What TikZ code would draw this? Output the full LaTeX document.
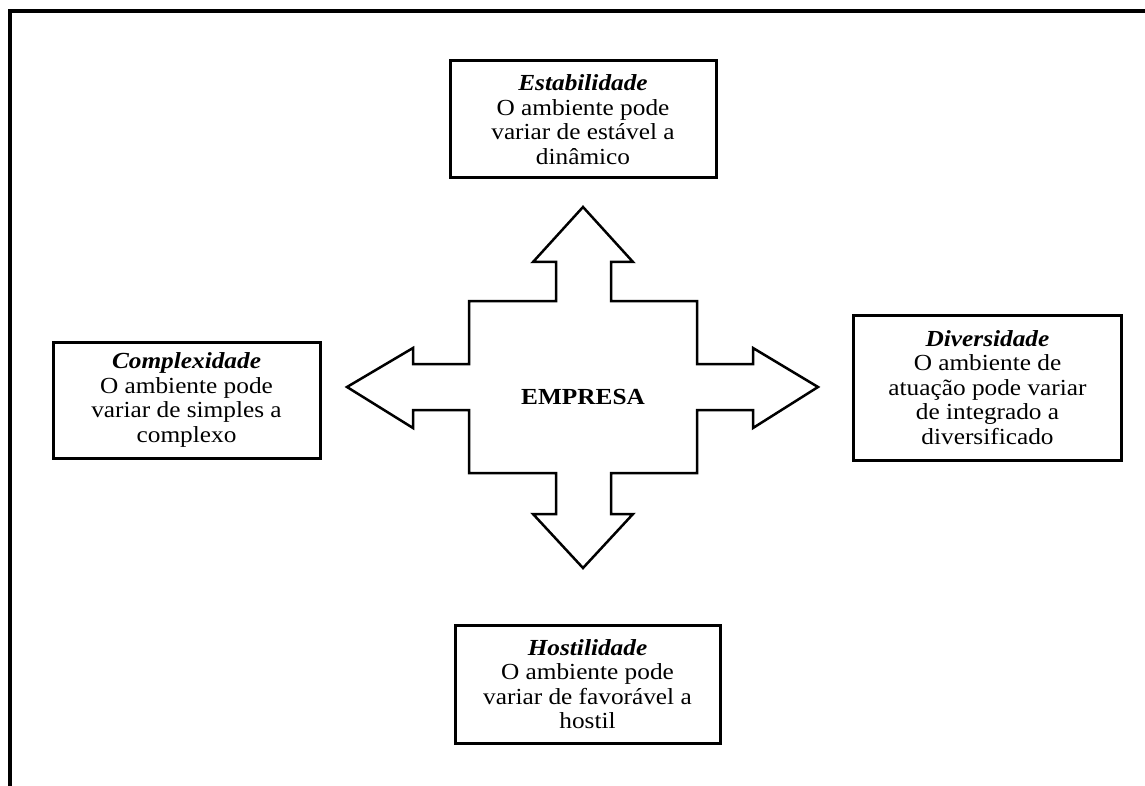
\documentclass[tikz,border=0pt]{standalone}
\usepackage{fontspec}
\setmainfont{Liberation Serif}[FakeStretch=1.1]
\usepackage{tikz}
\usetikzlibrary{positioning}

\begin{document}
\begin{tikzpicture}[x=1pt, y=-1pt,
  envbox/.style={draw,line width=3pt,align=center,inner sep=0pt,font=\fontsize{23}{24.5}\selectfont},
  every node/.style={font=\fontsize{23}{24.5}\selectfont}]
\useasboundingbox (0,0) rectangle (1145,786);
% outer frame, cut at right and bottom
\draw[line width=4pt] (9.5,786) -- (9.5,11.3) -- (1145,11.3);
% four-way arrow
\draw[line width=2.5pt,line join=miter]
  (583,207) -- (633,262) -- (611,262) -- (611,301) -- (697,301) -- (697,364)
  -- (753,364) -- (753,348) -- (818,387) -- (753,428) -- (753,410) -- (697,410)
  -- (697,473) -- (611,473) -- (611,514) -- (633,514) -- (583,568) -- (533,514)
  -- (556,514) -- (556,473) -- (469,473) -- (469,410) -- (413,410) -- (413,428)
  -- (347,387) -- (413,348) -- (413,364) -- (469,364) -- (469,301) -- (556,301)
  -- (556,262) -- (533,262) -- cycle;
\node (emp) at (583,397) {\textbf{EMPRESA}};
% the four boxes
\node[envbox,minimum width=266pt,minimum height=117pt] (est) at (583,119.5)
  {\textbf{\textit{Estabilidade}}\\O ambiente pode\\variar de estável a\\dinâmico};
\node[envbox,minimum width=267pt,minimum height=116pt] (comp) at (186.5,400)
  {\textbf{\textit{Complexidade}}\\O ambiente pode\\variar de simples a\\complexo};
\node[envbox,minimum width=268pt,minimum height=145pt] (div) at (987.5,387.5)
  {\textbf{\textit{Diversidade}}\\O ambiente de\\atuação pode variar\\de integrado a\\diversificado};
\node[envbox,minimum width=265pt,minimum height=118pt] (host) at (587.5,684)
  {\textbf{\textit{Hostilidade}}\\O ambiente pode\\variar de favorável a\\hostil};
\end{tikzpicture}
\end{document}
